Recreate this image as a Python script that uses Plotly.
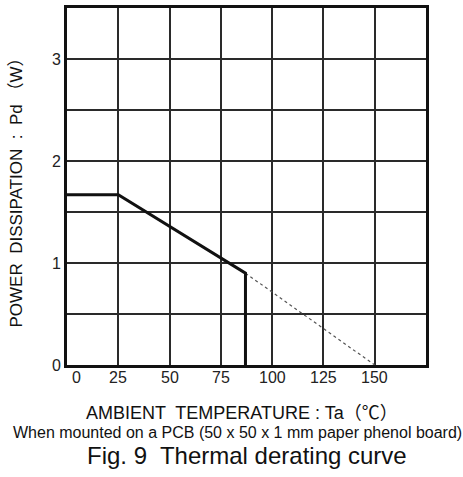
import plotly.graph_objects as go

# Data
derate_x = [0, 25, 87, 87]
derate_y = [1.67, 1.67, 0.9, 0]
extrap_x = [87, 150]
extrap_y = [0.9, 0]

x_tick_vals = [0, 25, 50, 75, 100, 125, 150]
x_tick_text = ["0", "25", "50", "75", "100", "125", "150"]
y_tick_vals = [0, 1, 2, 3]
y_tick_text = ["0", "1", "2", "3"]

x_title = "AMBIENT  TEMPERATURE : Ta（℃）"
y_title = "POWER  DISSIPATION  :  Pd （W）"
note = "When mounted on a PCB (50 x 50 x 1 mm paper phenol board)"
caption = "Fig. 9  Thermal derating curve"

FONT = "Liberation Sans, Arial, Helvetica, Noto Sans CJK JP, sans-serif"
GRID = "#2a2a2a"

fig = go.Figure()
fig.add_trace(go.Scatter(x=extrap_x, y=extrap_y, mode="lines",
                         line=dict(color="#555555", width=1.2, dash="dot"),
                         showlegend=False, hoverinfo="skip"))
fig.add_trace(go.Scatter(x=derate_x, y=derate_y, mode="lines",
                         line=dict(color="#111111", width=3),
                         showlegend=False, hoverinfo="skip"))

fig.update_xaxes(range=[0, 175], tickvals=x_tick_vals, showticklabels=False,
                 automargin=False,
                 showgrid=True, gridcolor=GRID, gridwidth=1.6,
                 showline=True, linecolor="#111111", linewidth=3,
                 mirror=True, zeroline=False, ticks="", ticklen=0)
fig.update_yaxes(range=[0, 3.5], tickvals=y_tick_vals, ticktext=y_tick_text,
                 automargin=False,
                 showgrid=True, gridcolor=GRID, gridwidth=1.6,
                 minor=dict(dtick=0.5, tick0=0, showgrid=True,
                            gridcolor=GRID, gridwidth=1.6),
                 showline=True, linecolor="#111111", linewidth=3,
                 mirror=True, zeroline=False, ticks="", ticklen=0,
                 ticklabelstandoff=0,
                 tickfont=dict(family=FONT, size=16, color="#222222"))

annotations = []
for i, (v, t) in enumerate(zip(x_tick_vals, x_tick_text)):
    annotations.append(dict(text=t, x=v, xref="x", y=0, yref="paper",
                            yanchor="middle", xanchor="center",
                            xshift=9 if i == 0 else 0, yshift=-12,
                            showarrow=False,
                            font=dict(family=FONT, size=16, color="#222222")))

annotations += [
    dict(text=x_title, x=0.5, xref="paper", y=0, yref="paper", xshift=-5,
         yshift=-48, yanchor="middle", xanchor="center", showarrow=False,
         font=dict(family=FONT, size=18, color="#111111")),
    dict(text=note, x=0.5, xref="paper", y=0, yref="paper", xshift=-9,
         yshift=-67, yanchor="middle", xanchor="center", showarrow=False,
         font=dict(family=FONT, size=16, color="#111111")),
    dict(text=caption, x=0.5, xref="paper", y=0, yref="paper", xshift=0,
         yshift=-90, yanchor="middle", xanchor="center", showarrow=False,
         font=dict(family=FONT, size=24, color="#111111")),
    dict(text=y_title, x=0, xref="paper", y=0.5, yref="paper", xshift=-51,
         yshift=-2, yanchor="middle", xanchor="center", textangle=-90,
         showarrow=False, font=dict(family=FONT, size=17, color="#111111")),
]

fig.update_layout(width=463, height=477,
                  margin=dict(l=67, r=37, t=8, b=112, autoexpand=False),
                  plot_bgcolor="white", paper_bgcolor="white",
                  annotations=annotations, showlegend=False)

fig.write_html("out.html", config={"displayModeBar": False},
               post_script="document.body.style.margin='0';"
                           "document.body.style.overflow='hidden';")
